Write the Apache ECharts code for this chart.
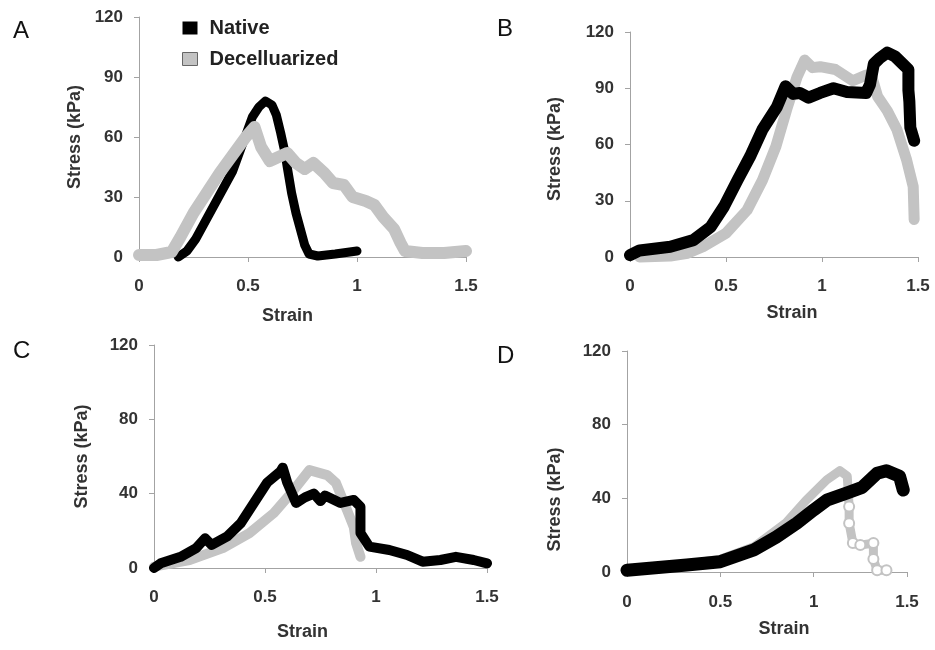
<!DOCTYPE html>
<html>
<head>
<meta charset="utf-8">
<script src="https://cdn.jsdelivr.net/npm/echarts@6/dist/echarts.min.js"></script>
<style>html,body{margin:0;padding:0;background:#fff}#c{width:935px;height:650px}</style>
</head>
<body>
<div id="c"></div>
<script>
// ---- data (strain, stress kPa) ----
var panelLetters = ['A', 'B', 'C', 'D'];
var seriesNames = ['Native', 'Decelluarized'];
var xTicks = [0, 0.5, 1, 1.5];
var yTicksAB = [0, 30, 60, 90, 120];
var yTicksCD = [0, 40, 80, 120];

var nativeA = [[0.18,0],[0.22,3],[0.26,9],[0.30,17],[0.36,29],[0.43,43],[0.48,58],[0.52,70],[0.55,75],[0.58,78],[0.61,76],[0.63,71],[0.65,62],[0.67,52],[0.68,45],[0.70,32],[0.72,22],[0.74,14],[0.76,6],[0.78,1.5],[0.82,0.5],[0.9,1.5],[1.0,3]];
var decellA = [[0,1],[0.08,1],[0.15,2.5],[0.19,10],[0.25,22],[0.31,32],[0.37,42],[0.43,51],[0.49,60],[0.53,65],[0.56,55],[0.6,48],[0.64,50],[0.68,52],[0.72,47],[0.76,44],[0.8,47],[0.85,42],[0.89,37],[0.94,36],[0.98,30],[1.04,28],[1.08,26],[1.12,20],[1.17,14],[1.2,7],[1.22,3],[1.3,2],[1.4,2],[1.5,3]];

var nativeB = [[0,1],[0.05,3.5],[0.21,5.5],[0.33,9],[0.42,16],[0.49,27],[0.56,41],[0.625,53.5],[0.69,68],[0.765,80],[0.81,91],[0.85,87],[0.885,87.5],[0.93,85],[0.99,87.5],[1.06,90],[1.13,88],[1.23,87.5],[1.25,92],[1.27,103],[1.30,106],[1.34,109],[1.38,107],[1.42,103],[1.45,100],[1.45,89],[1.455,83],[1.46,69],[1.48,62]];
var decellB = [[0.05,0],[0.21,0.5],[0.3,2],[0.38,5.5],[0.5,12.7],[0.61,25],[0.69,41],[0.76,59],[0.82,80],[0.87,96],[0.91,105],[0.95,101],[0.99,101.5],[1.07,100],[1.16,94],[1.23,97],[1.26,96],[1.29,85.5],[1.34,78],[1.39,68],[1.44,52],[1.475,37.5],[1.48,20]];

var nativeC = [[0,0],[0.03,2.5],[0.12,6],[0.19,10.7],[0.23,16],[0.26,12.4],[0.33,17],[0.39,24],[0.45,35],[0.51,46],[0.57,52],[0.58,54],[0.60,46],[0.64,35],[0.68,38],[0.72,40],[0.75,36],[0.77,39],[0.84,35],[0.9,36.6],[0.93,33],[0.93,18.8],[0.97,11.5],[1.06,9.7],[1.14,7],[1.21,3.4],[1.29,4.3],[1.36,6],[1.44,4.3],[1.5,2.5]];
var decellC = [[0,0.7],[0.16,4.3],[0.31,10.7],[0.43,18.8],[0.54,29.6],[0.63,42],[0.70,52.7],[0.78,50],[0.82,45.7],[0.87,31],[0.9,22],[0.91,13.5],[0.93,6]];

var nativeD = [[0,1],[0.32,3.8],[0.5,5.6],[0.68,12],[0.8,19],[0.91,26.5],[1.0,33.7],[1.07,39],[1.18,43],[1.26,46],[1.34,53.6],[1.39,55],[1.46,52],[1.48,44.5]];
var decellD = [[0,1.5],[0.3,4],[0.5,7],[0.68,13.7],[0.85,26.5],[0.96,39],[1.07,50],[1.14,55],[1.18,52],[1.19,35.5],[1.19,26.5],[1.21,15.7],[1.25,14.6],[1.32,15.7],[1.32,7],[1.34,1],[1.39,1]];

// ---- layout ----
var grids = [
  {left:139, top:17, width:327, height:240},
  {left:630, top:32, width:288, height:225},
  {left:154, top:345, width:333, height:223},
  {left:627, top:351, width:280, height:221}
];
var yNameGap = [55, 66, 63, 63];
var xNameGap = [50, 47, 55, 48];
var xNamePad = [[0,30,0,0],[0,0,0,36],[0,36,0,0],[0,0,0,34]];
var yNamePad = [[0,0,0,0],[0,9,0,0],[0,0,0,0],[0,76,0,0]];
var xLabelMargin = [21, 21, 21, 22];
var letterPos = [[13,19],[497,17],[13,339],[497,344]];

var BLACK = '#000000', GRAY = '#c3c3c3';
var axisCol = '#a3a3a3', txtCol = '#333333';
var FONT = 'Arial, "Liberation Sans", sans-serif';

var xAxes = [], yAxes = [], series = [], graphics = [];
var yTicksList = [yTicksAB, yTicksAB, yTicksCD, yTicksCD];
var pairs = [[nativeA, decellA], [nativeB, decellB], [nativeC, decellC], [nativeD, decellD]];
var nativeOnTop = [false, true, true, true];
var nativeWidth = [9, 12, 10, 13];
var decWidth = [12, 11, 10, 9];

for (var i = 0; i < 4; i++) {
  var yt = yTicksList[i];
  xAxes.push({
    type:'value', gridIndex:i, min:xTicks[0], max:xTicks[xTicks.length-1], interval:xTicks[1]-xTicks[0],
    name:'Strain', nameLocation:'middle', nameGap:xNameGap[i],
    nameTextStyle:{fontFamily:FONT, fontWeight:'bold', fontSize:18, color:txtCol, padding:xNamePad[i]},
    axisLine:{lineStyle:{color:axisCol, width:1}},
    axisTick:{show:true, length:5, lineStyle:{color:axisCol}},
    axisLabel:{fontFamily:FONT, fontWeight:'bold', fontSize:17, color:txtCol, margin:xLabelMargin[i]},
    splitLine:{show:false}
  });
  yAxes.push({
    type:'value', gridIndex:i, min:yt[0], max:yt[yt.length-1], interval:yt[1]-yt[0],
    name:'Stress (kPa)', nameLocation:'middle', nameGap:yNameGap[i],
    nameTextStyle:{fontFamily:FONT, fontWeight:'bold', fontSize:18, color:txtCol, padding:yNamePad[i]},
    axisLine:{show:true, lineStyle:{color:axisCol, width:1}},
    axisTick:{show:true, length:5, lineStyle:{color:axisCol}},
    axisLabel:{fontFamily:FONT, fontWeight:'bold', fontSize:17, color:txtCol, margin:16},
    splitLine:{show:false}
  });
  var nz = nativeOnTop[i] ? 3 : 2, dz = nativeOnTop[i] ? 2 : 3;
  series.push({
    name:seriesNames[0], type:'line', xAxisIndex:i, yAxisIndex:i, data:pairs[i][0],
    showSymbol:false, symbol:'rect', z:nz, color:BLACK, smooth:false,
    lineStyle:{color:BLACK, width:nativeWidth[i], cap:'round', join:'round'},
    itemStyle:{color:BLACK}, clip:false, animation:false
  });
  var isD = (i === 3);
  series.push({
    name:seriesNames[1], type:'line', xAxisIndex:i, yAxisIndex:i, data:pairs[i][1],
    showSymbol:isD, showAllSymbol:true, symbol:isD ? 'emptyCircle' : 'rect',
    symbolSize: isD ? function (v, p) { return p.dataIndex >= 9 ? 10 : 0; } : 9,
    z:dz, color:GRAY,
    lineStyle:{color:GRAY, width:decWidth[i], cap:'round', join:'round'},
    itemStyle:{color:GRAY, borderColor:'#a8a8a8', borderWidth:2}, clip:false, animation:false
  });
  graphics.push({
    type:'text', left:letterPos[i][0], top:letterPos[i][1],
    style:{text:panelLetters[i], font:'normal 24px ' + FONT, fill:'#111111'}
  });
}

var chart = echarts.init(document.getElementById('c'), null, {renderer:'canvas'});
chart.setOption({
  backgroundColor:'#ffffff',
  animation:false,
  grid:grids,
  xAxis:xAxes,
  yAxis:yAxes,
  series:series,
  graphic:graphics,
  legend:{
    orient:'vertical', left:177, top:13, itemWidth:15, itemHeight:13, itemGap:11,
    icon:'rect',
    data:[
      {name:seriesNames[0], itemStyle:{color:BLACK}},
      {name:seriesNames[1], itemStyle:{color:GRAY, borderColor:'#666666', borderWidth:1}}
    ],
    textStyle:{fontFamily:FONT, fontWeight:'bold', fontSize:20, color:'#222222', lineHeight:20, padding:[0,0,0,7]}
  }
});
</script>
</body>
</html>
